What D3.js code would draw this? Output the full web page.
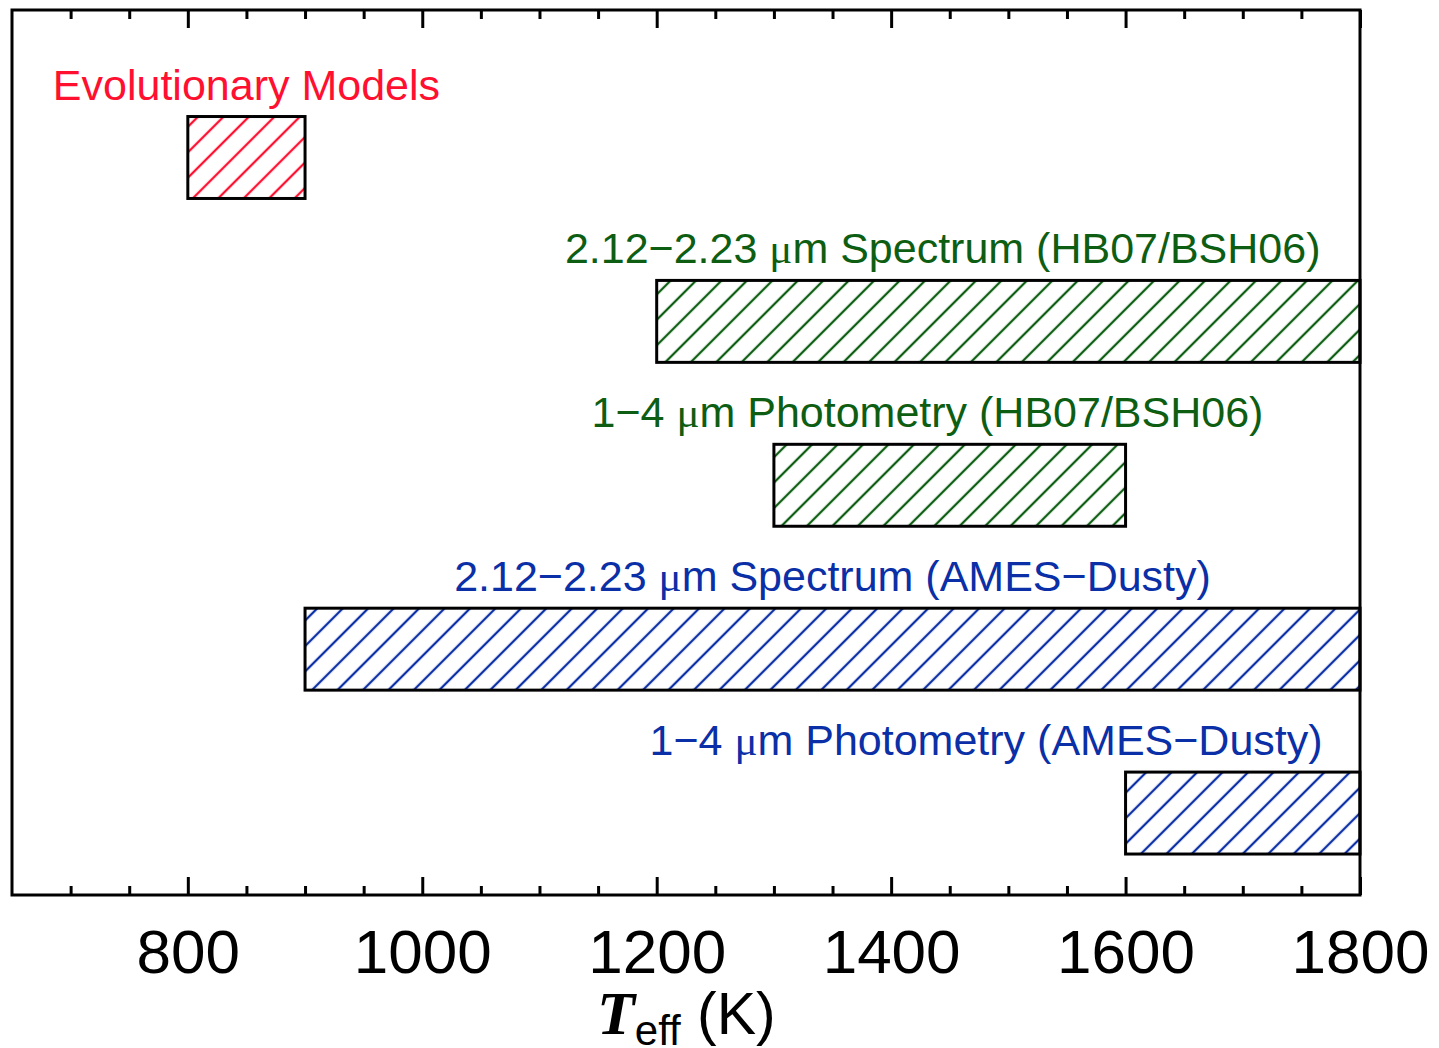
<!DOCTYPE html>
<html>
<head>
<meta charset="utf-8">
<script src="https://cdn.jsdelivr.net/npm/d3@7"></script>
<style>
  body { margin: 0; background: #fff; }
  svg { display: block; }
</style>
</head>
<body>
<div id="chart"></div>
<script>

// ranges of Teff (K) allowed by each method
const methods = ["Evolutionary Models",
    "2.12\u22122.23 \u03bcm Spectrum (HB07/BSH06)",
    "1\u22124 \u03bcm Photometry (HB07/BSH06)",
    "2.12\u22122.23 \u03bcm Spectrum (AMES\u2212Dusty)",
    "1\u22124 \u03bcm Photometry (AMES\u2212Dusty)"];
const teffLow  = [800, 1200, 1300, 900, 1600];
const teffHigh = [900, 1800, 1600, 1800, 1800];
const labelAt  = [850, 1444, 1431, 1350, 1481];   // where each caption is centred (K)
const family   = ["evo", "hb", "hb", "ames", "ames"];

const majorTicks = [800, 1000, 1200, 1400, 1600, 1800];

const colors = {evo: "#ff1030", hb: "#0d5e12", ames: "#0b2fa6"};

var width = 1439, height = 1048;
var margin = {top: 10, right: 79, bottom: 153, left: 12};
var plotW = width - margin.left - margin.right,
    plotH = height - margin.top - margin.bottom;

var svg = d3.select("#chart").append("svg")
    .attr("width", width)
    .attr("height", height);

var defs = svg.append("defs");
Object.keys(colors).forEach(function (k) {
    defs.append("pattern")
        .attr("id", "hatch-" + k)
        .attr("patternUnits", "userSpaceOnUse")
        .attr("width", 18)
        .attr("height", 18)
        .attr("patternTransform", "rotate(45)")
        .append("line")
        .attr("x1", 9).attr("y1", 0)
        .attr("x2", 9).attr("y2", 18)
        .attr("stroke", colors[k])
        .attr("stroke-width", 2.3);
});

var g = svg.append("g")
    .attr("transform", "translate(" + margin.left + "," + margin.top + ")");

var x = d3.scaleLinear().domain([650, 1800]).range([0, plotW]);
var y = d3.scaleLinear().domain([-0.9, 4.5]).range([0, plotH]);

var rows = methods.map(function (m, i) {
    return {name: m, lo: teffLow[i], hi: teffHigh[i], at: labelAt[i], fam: family[i], i: i};
});

// bars
g.selectAll("rect.bar")
    .data(rows)
    .enter().append("rect")
    .attr("class", "bar")
    .attr("x", d => x(d.lo))
    .attr("width", d => x(d.hi) - x(d.lo))
    .attr("y", d => y(d.i - 0.25))
    .attr("height", d => y(d.i + 0.25) - y(d.i - 0.25))
    .style("fill", d => "url(#hatch-" + d.fam + ")")
    .style("stroke", "black")
    .style("stroke-width", 3);

// captions
var cap = g.selectAll("text.cap")
    .data(rows)
    .enter().append("text")
    .attr("class", "cap")
    .attr("x", d => x(d.at))
    .attr("y", d => y(d.i - 0.25) - 17)
    .attr("text-anchor", "middle")
    .style("font-family", "'Liberation Sans', Arial, sans-serif")
    .style("font-size", "43px")
    .style("fill", d => colors[d.fam]);

cap.each(function (d) {
    var t = d3.select(this);
    d.name.split(/(\u03bc)/).forEach(function (part) {
        if (part === "\u03bc") {
            t.append("tspan").style("font-family", "'Liberation Serif', 'Times New Roman', serif").text(part);
        } else {
            t.append("tspan").text(part);
        }
    });
});

// axes, ticks pointing inward on top and bottom
var minorTicks = d3.range(700, 1800, 50).filter(v => majorTicks.indexOf(v) < 0);

g.append("g")
    .attr("class", "axis")
    .attr("transform", "translate(0," + plotH + ")")
    .call(d3.axisBottom(x).tickValues(majorTicks).tickSize(-18).tickPadding(34).tickFormat(d3.format("d")));
g.append("g")
    .attr("class", "axis")
    .attr("transform", "translate(0," + plotH + ")")
    .call(d3.axisBottom(x).tickValues(minorTicks).tickSize(-9).tickFormat(""));
g.append("g")
    .attr("class", "axis")
    .call(d3.axisTop(x).tickValues(majorTicks).tickSize(-18).tickFormat(""));
g.append("g")
    .attr("class", "axis")
    .call(d3.axisTop(x).tickValues(minorTicks).tickSize(-9).tickFormat(""));

g.selectAll(".axis .domain").remove();
g.selectAll(".axis line").style("stroke", "black").style("stroke-width", 3);
g.selectAll(".axis text")
    .style("font-family", "'Liberation Sans', Arial, sans-serif")
    .style("font-size", "62px")
    .style("fill", "black");

// frame
g.append("rect")
    .attr("width", plotW)
    .attr("height", plotH)
    .style("fill", "none")
    .style("stroke", "black")
    .style("stroke-width", 3);

// axis title
var title = svg.append("text")
    .attr("x", margin.left + x(1149))
    .attr("y", 1034)
    .attr("text-anchor", "start")
    .style("font-family", "'Liberation Sans', Arial, sans-serif")
    .style("font-size", "59px")
    .style("fill", "black");
title.append("tspan")
    .style("font-family", "'Liberation Serif', 'Times New Roman', serif")
    .style("font-style", "italic")
    .style("font-weight", "bold")
    .style("font-size", "62px")
    .text("T");
title.append("tspan")
    .attr("dy", 11)
    .style("font-size", "42px")
    .text("eff");
title.append("tspan")
    .attr("dy", -11)
    .text(" (K)");

</script>
</body>
</html>
